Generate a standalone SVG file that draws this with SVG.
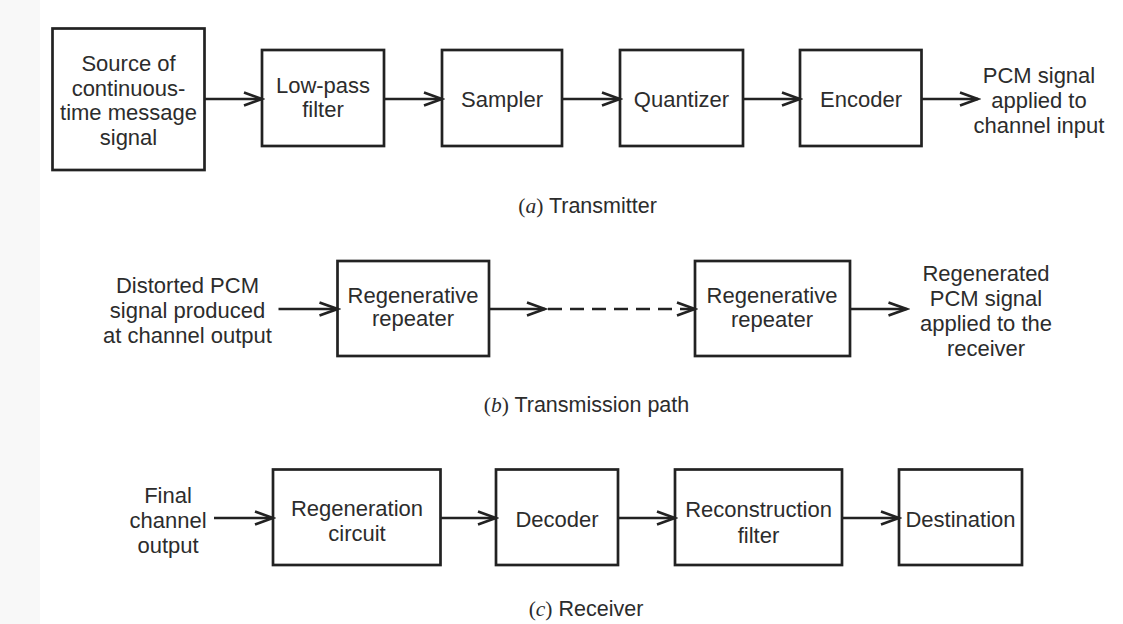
<svg xmlns="http://www.w3.org/2000/svg" width="1123" height="624" viewBox="0 0 1123 624">
  <defs>
    <marker id="arr" markerUnits="userSpaceOnUse" markerWidth="22" markerHeight="18" viewBox="0 0 22 18" refX="19" refY="9" orient="auto">
      <path d="M1,2.5 L19,9 L1,15.5" fill="none" stroke="#222222" stroke-width="2.7" stroke-linejoin="miter"/>
    </marker>
    <style>
      .box { fill: #ffffff; stroke: #222222; stroke-width: 2.7; }
      .t { font-family: "Liberation Sans", Arial, sans-serif; font-size: 22px; fill: #2c2c2c; text-anchor: middle; }
      .cap { font-family: "Liberation Sans", Arial, sans-serif; font-size: 21.5px; fill: #2c2c2c; text-anchor: middle; }
      .serif { font-family: "Liberation Serif", "Times New Roman", serif; }
      .ln { fill: none; stroke: #222222; stroke-width: 2.7; marker-end: url(#arr); }
      .dash { stroke-dasharray: 14 8; }
    </style>
  </defs>
  <rect x="0" y="0" width="1123" height="624" fill="#ffffff"/>
  <rect x="0" y="0" width="40" height="624" fill="#f8f8f8"/>

  <!-- (a) Transmitter -->
  <g id="source">
    <rect class="box" x="52.5" y="28.5" width="152" height="141.5"/>
    <text class="t" x="128.5" y="71">Source of</text>
    <text class="t" x="128.5" y="96">continuous-</text>
    <text class="t" x="128.5" y="120">time message</text>
    <text class="t" x="128.5" y="145">signal</text>
  </g>
  <g id="lowpass">
    <rect class="box" x="262" y="50" width="122" height="96"/>
    <text class="t" x="323" y="93">Low-pass</text>
    <text class="t" x="323" y="117">filter</text>
  </g>
  <g id="sampler">
    <rect class="box" x="442" y="50" width="120" height="96"/>
    <text class="t" x="502" y="107">Sampler</text>
  </g>
  <g id="quantizer">
    <rect class="box" x="620" y="50" width="123" height="96"/>
    <text class="t" x="681.5" y="107">Quantizer</text>
  </g>
  <g id="encoder">
    <rect class="box" x="800" y="50" width="121.5" height="96"/>
    <text class="t" x="861" y="107">Encoder</text>
  </g>
  <g id="pcm-out">
    <text class="t" x="1039" y="83">PCM signal</text>
    <text class="t" x="1039" y="108">applied to</text>
    <text class="t" x="1039" y="133">channel input</text>
  </g>
  <g id="caption-a">
    <text class="cap" x="587.5" y="213"><tspan class="serif">(</tspan><tspan class="serif" font-style="italic">a</tspan><tspan class="serif">)</tspan> Transmitter</text>
  </g>

  <!-- (b) Transmission path -->
  <g id="distorted-in">
    <text class="t" x="187.5" y="293">Distorted PCM</text>
    <text class="t" x="187.5" y="318">signal produced</text>
    <text class="t" x="187.5" y="343">at channel output</text>
  </g>
  <g id="repeater1">
    <rect class="box" x="337.5" y="261" width="151.5" height="95"/>
    <text class="t" x="413" y="303">Regenerative</text>
    <text class="t" x="413" y="326">repeater</text>
  </g>
  <g id="repeater2">
    <rect class="box" x="695" y="261" width="155" height="95"/>
    <text class="t" x="772" y="303">Regenerative</text>
    <text class="t" x="772" y="327">repeater</text>
  </g>
  <g id="regenerated-out">
    <text class="t" x="986" y="281">Regenerated</text>
    <text class="t" x="986" y="306">PCM signal</text>
    <text class="t" x="986" y="331">applied to the</text>
    <text class="t" x="986" y="356">receiver</text>
  </g>
  <g id="caption-b">
    <text class="cap" x="586.5" y="412"><tspan class="serif">(</tspan><tspan class="serif" font-style="italic">b</tspan><tspan class="serif">)</tspan> Transmission path</text>
  </g>

  <!-- (c) Receiver -->
  <g id="final-in">
    <text class="t" x="168" y="503">Final</text>
    <text class="t" x="168" y="528">channel</text>
    <text class="t" x="168" y="553">output</text>
  </g>
  <g id="regen-circuit">
    <rect class="box" x="273" y="469.5" width="167.5" height="95.5"/>
    <text class="t" x="357" y="516">Regeneration</text>
    <text class="t" x="357" y="541">circuit</text>
  </g>
  <g id="decoder">
    <rect class="box" x="496" y="469.5" width="122" height="95.5"/>
    <text class="t" x="557" y="527">Decoder</text>
  </g>
  <g id="reconstruction">
    <rect class="box" x="675" y="469.5" width="167" height="95.5"/>
    <text class="t" x="758.5" y="517">Reconstruction</text>
    <text class="t" x="758.5" y="543">filter</text>
  </g>
  <g id="destination">
    <rect class="box" x="899" y="469.5" width="123" height="95.5"/>
    <text class="t" x="960.5" y="527">Destination</text>
  </g>
  <g id="caption-c">
    <text class="cap" x="586" y="616"><tspan class="serif">(</tspan><tspan class="serif" font-style="italic">c</tspan><tspan class="serif">)</tspan> Receiver</text>
  </g>

  <g id="connectors">
    <line class="ln" x1="204.5" y1="99" x2="262" y2="99"/>
    <line class="ln" x1="384" y1="99" x2="442" y2="99"/>
    <line class="ln" x1="562" y1="99" x2="620" y2="99"/>
    <line class="ln" x1="743" y1="99" x2="800" y2="99"/>
    <line class="ln" x1="921.5" y1="99" x2="978" y2="99"/>

    <line class="ln" x1="278.5" y1="309" x2="337.5" y2="309"/>
    <line class="ln" x1="489" y1="309" x2="545" y2="309"/>
    <line class="ln dash" x1="548" y1="309" x2="695" y2="309"/>
    <line class="ln" x1="850" y1="309" x2="906.5" y2="309"/>

    <line class="ln" x1="214" y1="518" x2="273" y2="518"/>
    <line class="ln" x1="440.5" y1="518" x2="496" y2="518"/>
    <line class="ln" x1="618" y1="518" x2="675" y2="518"/>
    <line class="ln" x1="842" y1="518" x2="899" y2="518"/>
  </g>
</svg>
